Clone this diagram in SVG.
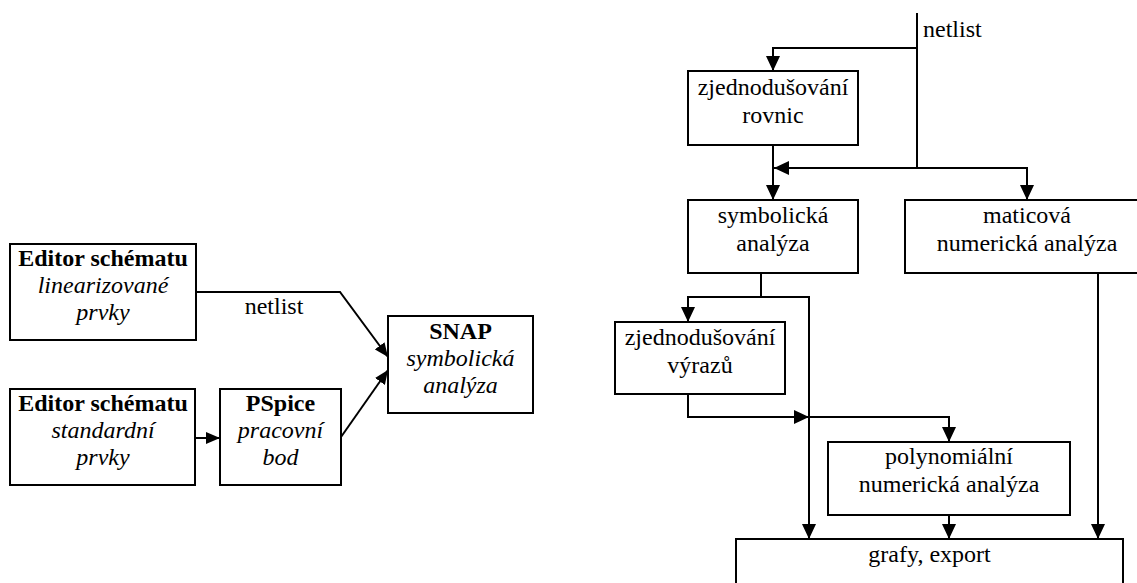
<svg xmlns="http://www.w3.org/2000/svg" width="1137" height="583" viewBox="0 0 1137 583">
<style>
.box{fill:#fff;stroke:#000;stroke-width:2}
.ln{fill:none;stroke:#000;stroke-width:2}
text{font-size:24px;fill:#000;text-anchor:middle}
.b{font-weight:bold}
.i{font-style:italic}
</style>
<defs>
<marker id="ah" markerUnits="userSpaceOnUse" markerWidth="15" markerHeight="14" refX="15" refY="7" orient="auto">
<path d="M0,0 L15,7 L0,14 z" fill="#000"/>
</marker>
<marker id="as" markerUnits="userSpaceOnUse" markerWidth="14" markerHeight="12" refX="14" refY="6" orient="auto">
<path d="M0,0 L14,6 L0,12 z" fill="#000"/>
</marker>
</defs>
<rect width="1137" height="583" fill="#fff"/>
<g font-family="'Liberation Serif', 'DejaVu Serif', serif">
<g id="connectors">
<path class="ln" d="M196,292 H340 L388,357" marker-end="url(#as)"/>
<path class="ln" d="M341,437 L388,370" marker-end="url(#as)"/>
<path class="ln" d="M195,438 H220" marker-end="url(#as)"/>
<path class="ln" d="M917,13 V168"/>
<path class="ln" d="M917,48 H773 V71" marker-end="url(#ah)"/>
<path class="ln" d="M773,145 V200" marker-end="url(#ah)"/>
<path class="ln" d="M917,168 H774" marker-end="url(#ah)"/>
<path class="ln" d="M917,168 H1027 V200" marker-end="url(#ah)"/>
<path class="ln" d="M761,273 V297 H688 V322" marker-end="url(#ah)"/>
<path class="ln" d="M761,297 H809 V539" marker-end="url(#ah)"/>
<path class="ln" d="M688,394 V417 H809" marker-end="url(#ah)"/>
<path class="ln" d="M809,417 H949 V442" marker-end="url(#ah)"/>
<path class="ln" d="M949,515 V539" marker-end="url(#ah)"/>
<path class="ln" d="M1098,273 V539" marker-end="url(#ah)"/>
<text x="274" y="314">netlist</text>
<text x="923" y="37" style="text-anchor:start">netlist</text>
</g>
<g id="editor1">
<rect class="box" x="10" y="244" width="186" height="96"/>
<text x="103" y="266" class="b">Editor schématu</text>
<text x="103" y="293" class="i">linearizované</text>
<text x="103" y="320" class="i">prvky</text>
</g>
<g id="editor2">
<rect class="box" x="10" y="389" width="185" height="96"/>
<text x="103" y="411" class="b">Editor schématu</text>
<text x="103" y="438" class="i">standardní</text>
<text x="103" y="465" class="i">prvky</text>
</g>
<g id="pspice">
<rect class="box" x="220" y="389" width="121" height="96"/>
<text x="280.5" y="411" class="b">PSpice</text>
<text x="280.5" y="438" class="i">pracovní</text>
<text x="280.5" y="465" class="i">bod</text>
</g>
<g id="snap">
<rect class="box" x="388" y="316" width="145" height="97"/>
<text x="460.5" y="339" class="b">SNAP</text>
<text x="460.5" y="366" class="i">symbolická</text>
<text x="460.5" y="393" class="i">analýza</text>
</g>
<g id="zjed-rovnic">
<rect class="box" x="688" y="71" width="170" height="74"/>
<text x="773" y="95">zjednodušování</text>
<text x="773" y="123">rovnic</text>
</g>
<g id="symbolicka">
<rect class="box" x="688" y="200" width="170" height="73"/>
<text x="773" y="223">symbolická</text>
<text x="773" y="251">analýza</text>
</g>
<g id="maticova">
<rect class="box" x="905" y="200" width="244" height="73"/>
<text x="1027" y="223">maticová</text>
<text x="1027" y="251">numerická analýza</text>
</g>
<g id="zjed-vyrazu">
<rect class="box" x="615" y="322" width="170" height="72"/>
<text x="700" y="345">zjednodušování</text>
<text x="700" y="373">výrazů</text>
</g>
<g id="polynomialni">
<rect class="box" x="828" y="442" width="242" height="73"/>
<text x="949" y="464">polynomiální</text>
<text x="949" y="492">numerická analýza</text>
</g>
<g id="grafy">
<rect class="box" x="736" y="539" width="387" height="70"/>
<text x="929.5" y="562">grafy, export</text>
</g>
</g>
</svg>
